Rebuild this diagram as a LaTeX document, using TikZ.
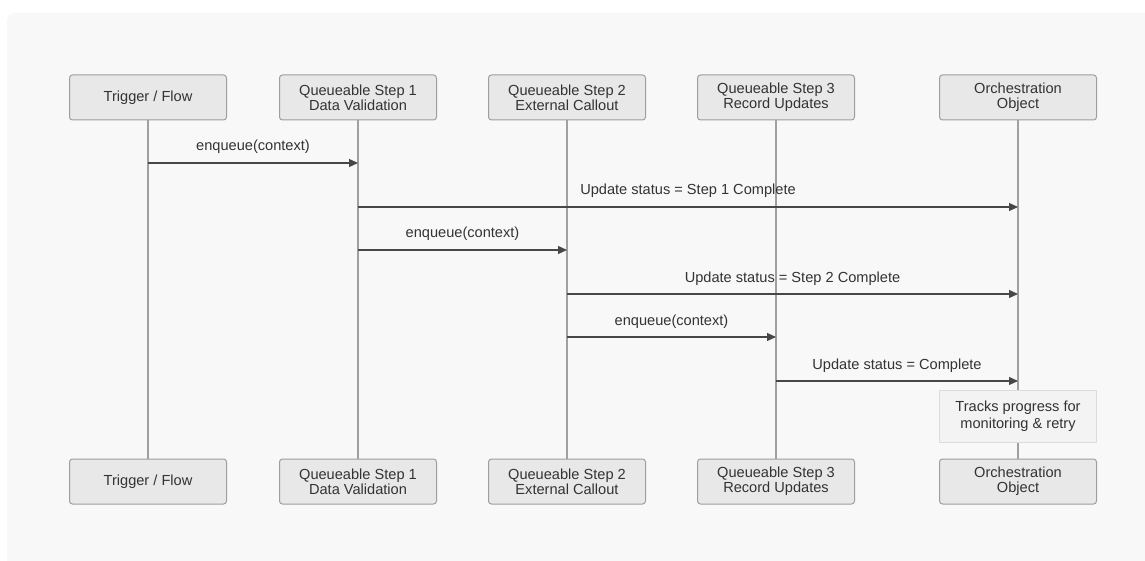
\documentclass[tikz,border=0pt]{standalone}
\usepackage{fontspec}
\setmainfont{Liberation Sans}
\usetikzlibrary{arrows.meta}
\definecolor{panel}{HTML}{F8F8F8}
\definecolor{actorfill}{HTML}{E8E8E8}
\definecolor{actorline}{HTML}{9E9E9E}
\definecolor{lifeline}{HTML}{A0A0A0}
\definecolor{msgline}{HTML}{474747}
\definecolor{txt}{HTML}{333333}
\definecolor{notefill}{HTML}{F3F3F3}
\definecolor{noteline}{HTML}{DCDCDC}
\tikzset{
  actor/.style={draw=actorline, fill=actorfill, line width=1pt, rounded corners=3pt,
    minimum width=157pt, minimum height=45pt, align=center, text=txt,
    font=\fontsize{14.6}{15}\selectfont, inner sep=2pt},
  life/.style={draw=lifeline, line width=1.3pt},
  msg/.style={draw=msgline, line width=1.2pt, -{Triangle[length=9pt,width=8pt]}},
  msglabel/.style={text=txt, font=\fontsize{14.6}{15}\selectfont, anchor=base},
  notebox/.style={draw=noteline, fill=notefill, line width=1pt,
    minimum width=157pt, minimum height=52pt, align=center, text=txt,
    font=\fontsize{14.6}{17}\selectfont}
}
\begin{document}
\begin{tikzpicture}[x=1pt,y=-1pt]
\useasboundingbox (0,0) rectangle (1145,561);
\fill[white] (0,0) rectangle (1145,561);
% background panel
\fill[panel, rounded corners=8pt] (7,13) rectangle (1160,576);

% participants (top)
\node[actor] (t1) at (148,97.5) {Trigger / Flow};
\node[actor] (t2) at (358,97.5) {Queueable Step 1\\Data Validation};
\node[actor] (t3) at (567,97.5) {Queueable Step 2\\External Callout};
\node[actor] (t4) at (776,97.5) {Queueable Step 3\\Record Updates};
\node[actor] (t5) at (1018,97.5) {Orchestration\\Object};

% participants (bottom)
\node[actor] (b1) at (148,481.5) {Trigger / Flow};
\node[actor] (b2) at (358,481.5) {Queueable Step 1\\Data Validation};
\node[actor] (b3) at (567,481.5) {Queueable Step 2\\External Callout};
\node[actor] (b4) at (776,481.5) {Queueable Step 3\\Record Updates};
\node[actor] (b5) at (1018,481.5) {Orchestration\\Object};

% lifelines
\foreach \i in {1,...,5} {
  \draw[life] (t\i.south) -- (b\i.north);
}

% message anchor points on the lifelines
\coordinate (m1a) at (148,163);  \coordinate (m1b) at (358,163);
\coordinate (m2a) at (358,207);  \coordinate (m2b) at (1018,207);
\coordinate (m3a) at (358,250);  \coordinate (m3b) at (567,250);
\coordinate (m4a) at (567,294);  \coordinate (m4b) at (1018,294);
\coordinate (m5a) at (567,337);  \coordinate (m5b) at (776,337);
\coordinate (m6a) at (776,381);  \coordinate (m6b) at (1018,381);

% messages
\draw[msg] (m1a) -- (m1b);
\node[msglabel] (l1) at (253,151) {enqueue(context)};
\draw[msg] (m2a) -- (m2b);
\node[msglabel] (l2) at (688,195) {Update status = Step 1 Complete};
\draw[msg] (m3a) -- (m3b);
\node[msglabel] (l3) at (462.5,238) {enqueue(context)};
\draw[msg] (m4a) -- (m4b);
\node[msglabel] (l4) at (792.5,282) {Update status = Step 2 Complete};
\draw[msg] (m5a) -- (m5b);
\node[msglabel] (l5) at (671.5,325) {enqueue(context)};
\draw[msg] (m6a) -- (m6b);
\node[msglabel] (l6) at (897,369) {Update status = Complete};

% note over the orchestration object
\node[notebox] (n1) at (1018,416) {Tracks progress for\\monitoring \& retry};
\end{tikzpicture}
\end{document}
